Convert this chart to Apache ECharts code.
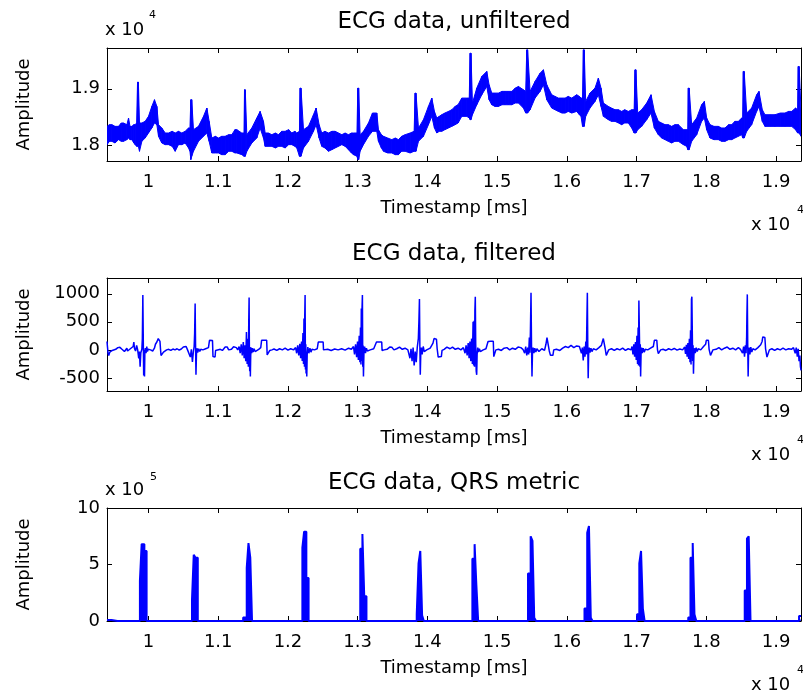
<!DOCTYPE html>
<html><head><meta charset="utf-8">
<script src="https://cdn.jsdelivr.net/npm/echarts@6/dist/echarts.min.js"></script>
<style>html,body{margin:0;padding:0;background:#fff}#c{width:803px;height:695px}</style>
</head><body><div id="c"></div>
<script>
// ---------- axis ticks / labels ----------
const xTicks = [10000, 11000, 12000, 13000, 14000, 15000, 16000, 17000, 18000, 19000];
const xTickLabels = ['1', '1.1', '1.2', '1.3', '1.4', '1.5', '1.6', '1.7', '1.8', '1.9'];
const rawTicks = [18000, 19000];
const rawTickLabels = ['1.8', '1.9'];
const filtTicks = [-500, 0, 500, 1000];
const filtTickLabels = ['-500', '0', '500', '1000'];
const qrsTicks = [0, 500000, 1000000];
const qrsTickLabels = ['0', '5', '10'];
const titles = ['ECG data, unfiltered', 'ECG data, filtered', 'ECG data, QRS metric'];

// ---------- unfiltered ECG: [timestamp ms, lower edge, upper edge] of the noisy trace ----------
const rawBand = [
[9405,18006,18331],[9440,18065,18361],[9475,18065,18361],[9520,18035,18331],[9570,18095,18331],
[9610,18065,18391],[9642,18065,18391],[9690,18095,18361],[9714,18124,18479],[9735,18095,18331],
[9761,18095,18331],[9790,18035,18361],[9809,18006,18361],[9830,17976,18391],[9843,17976,19118],
[9855,17976,19118],[9871,17888,18391],[9905,18065,18391],[9952,18124,18420],[10000,18213,18509],
[10048,18302,18686],[10086,18391,18805],[10120,18361,18686],[10144,18154,18361],[10191,18035,18302],
[10240,18006,18213],[10287,18006,18213],[10340,17976,18243],[10383,17888,18213],[10430,18006,18243],
[10478,18006,18213],[10526,18035,18243],[10574,17947,18302],[10595,17888,18302],[10607,17740,18805],
[10620,17800,18805],[10645,17888,18272],[10717,18065,18331],[10789,18154,18509],[10837,18213,18657],
[10870,18065,18420],[10908,17858,18124],[10960,17858,18154],[11004,17858,18124],[11050,17828,18154],
[11099,17828,18154],[11150,17888,18183],[11195,17888,18183],[11240,17858,18272],[11267,17858,18272],
[11338,17828,18213],[11370,17799,18213],[11377,17799,18982],[11388,17799,18982],[11410,17888,18183],
[11482,18035,18302],[11553,18124,18479],[11601,18302,18597],[11649,18124,18420],[11673,17976,18213],
[11720,17976,18213],[11769,17976,18183],[11820,17947,18213],[11864,17976,18183],[11910,17976,18243],
[11960,17947,18243],[12010,18006,18272],[12055,18006,18213],[12100,17976,18243],[12127,17947,18213],
[12165,17799,18243],[12175,17799,19012],[12187,17799,19012],[12223,17947,18272],[12294,18065,18331],
[12366,18243,18538],[12404,18361,18657],[12447,18124,18361],[12485,17976,18213],[12530,17947,18243],
[12581,17888,18213],[12630,17917,18243],[12677,17947,18243],
[12773,18006,18183],[12820,17976,18213],[12868,17917,18183],[12910,17858,18213],[12940,17828,18213],
[12990,17799,18213],[13002,17740,19012],[13014,17740,19012],[13035,17888,18183],[13083,18006,18243],
[13155,18154,18391],[13212,18243,18568],[13274,18243,18568],[13298,18065,18272],[13340,17947,18183],
[13370,17888,18154],[13430,17858,18124],[13489,17858,18095],[13540,17828,18124],[13585,17828,18095],
[13630,17888,18154],[13681,17888,18183],[13752,17858,18213],[13810,17888,18243],[13824,17888,18923],
[13836,17888,18923],[13872,18065,18302],[13943,18154,18450],[14015,18361,18686],[14063,18509,18834],
[14101,18302,18597],[14135,18213,18479],[14170,18243,18509],[14206,18243,18538],[14250,18272,18568],
[14302,18302,18597],[14350,18331,18627],[14397,18361,18686],[14440,18391,18716],[14493,18509,18834],
[14565,18509,18834],[14600,18480,18834],[14613,18450,19633],[14625,18450,19633],[14646,18538,18746],
[14708,18716,19012],[14780,18893,19219],[14851,19041,19308],[14885,18805,19071],[14923,18716,18923],
[14970,18686,18923],[15019,18686,18923],[15070,18716,18953],[15114,18716,18953],[15160,18716,18953],
[15210,18716,18953],[15260,18746,19012],[15306,18746,19041],[15377,18657,18982],[15410,18568,18953],
[15425,18568,19692],[15437,18568,19692],[15473,18627,18953],[15544,18834,19130],[15616,18953,19278],
[15664,19071,19337],[15712,18805,19071],[15783,18657,18893],[15830,18627,18864],[15879,18597,18834],
[15930,18568,18834],[15975,18568,18834],
[16020,18597,18864],[16070,18568,18834],[16141,18597,18893],[16180,18538,18864],[16203,18509,18834],
[16225,18331,18834],[16237,18331,19692],[16249,18331,19692],[16270,18509,18775],[16332,18657,18923],
[16404,18775,19012],[16452,18893,19189],[16490,18686,19012],[16524,18509,18746],[16595,18450,18686],
[16640,18420,18657],[16691,18420,18627],[16740,18391,18627],[16786,18361,18597],[16830,18391,18627],
[16882,18391,18597],[16930,18302,18627],[16965,18213,18627],[16978,18213,19337],[16990,18213,19337],
[17016,18272,18568],[17073,18331,18627],[17145,18450,18746],[17207,18568,18893],[17255,18302,18597],
[17312,18183,18420],[17360,18124,18391],[17408,18095,18361],[17455,18065,18361],[17503,18035,18331],
[17550,18065,18361],[17599,18065,18361],[17671,18006,18272],[17718,17976,18272],[17735,17917,18272],
[17742,17917,19012],[17754,17917,19012],[17790,18065,18361],[17862,18183,18479],[17933,18420,18716],
[17972,18479,18775],[18005,18272,18479],[18053,18124,18361],[18110,18095,18331],[18172,18095,18331],
[18220,18065,18302],[18268,18065,18302],[18320,18095,18361],[18364,18095,18361],[18410,18124,18420],
[18459,18154,18420],[18507,18183,18479],[18522,18124,18479],[18531,18124,19308],[18543,18124,19308],
[18579,18243,18568],[18650,18361,18657],[18722,18597,18893],[18755,18686,18953],[18803,18420,18627],
[18841,18331,18538],[18910,18331,18538],[18985,18331,18538],[19060,18331,18568],[19128,18331,18568],
[19180,18331,18597],[19224,18331,18597],[19280,18272,18657],[19310,18213,18627],[19319,18213,19396],
[19331,18213,19396],[19358,18154,18627]
];

// ---------- filtered ECG: [timestamp ms, amplitude] ----------
const filteredPoints = [
[9405,150],[9412,140],[9420,-60],[9430,-100],[9445,-40],[9460,-20],[9480,-10],[9500,0],[9530,10],[9560,40],
[9590,45],[9620,10],[9640,20],[9655,-30],[9670,0],[9690,30],[9700,-20],[9715,10],[9740,20],[9760,-10],
[9780,60],[9790,140],[9800,20],[9815,-20],[9830,80],[9845,0],[9860,-150],[9870,-30],[9880,-300],[9890,-50],
[9905,10],[9912,200],[9919,977],[9926,100],[9931,-456],[9937,0],[9943,-474],[9948,-40],[9955,30],[9965,-60],
[9975,60],[9985,-30],[9995,10],[10005,40],[10015,0],[10030,0],[10060,-20],[10085,30],[10100,100],[10120,140],
[10140,200],[10155,230],[10165,150],[10172,20],[10180,-100],[10200,-100],[10215,-40],[10230,-10],[10260,0],
[10290,10],[10320,-10],[10350,15],[10380,0],[10410,20],[10440,-5],[10470,15],[10500,50],[10520,40],[10540,60],
[10560,0],[10580,20],[10600,-128],[10615,10],[10630,-217],[10645,-20],[10655,60],[10662,300],[10669,828],
[10675,100],[10681,-444],[10688,-80],[10695,30],[10705,-50],[10720,20],[10735,-30],[10750,10],[10780,0],
[10820,20],[10860,40],[10875,170],[10900,171],[10918,165],[10925,-120],[10955,-128],[10962,-10],[10990,0],
[11030,10],[11060,-10],[11100,50],[11130,50],[11150,0],[11190,10],[11220,55],[11260,40],[11280,0],
[11300,60],[11315,-60],[11330,100],[11345,-100],[11360,140],[11372,-150],[11385,80],[11395,-200],[11405,320],
[11415,-250],[11425,200],[11432,-300],[11438,500],[11443,935],[11448,-200],[11452,-380],[11457,50],[11461,-474],
[11466,-100],[11472,40],[11480,-60],[11490,30],[11500,-40],[11515,20],[11530,-30],[11545,0],
[11580,10],[11610,40],[11622,170],[11660,171],[11695,171],[11702,-90],[11730,-98],[11740,-10],[11770,0],
[11800,15],[11840,-10],[11880,20],[11920,0],[11960,30],[12000,-5],[12040,20],[12080,0],
[12110,40],[12125,-60],[12140,80],[12155,-100],[12170,110],[12182,-150],[12195,150],[12205,-200],[12215,300],
[12223,-250],[12230,559],[12237,-300],[12241,600],[12246,977],[12251,-350],[12256,100],[12260,-420],[12265,-50],
[12270,-474],[12276,-80],[12285,50],[12300,-60],[12315,30],[12330,-40],[12345,10],
[12380,0],[12420,20],[12435,140],[12470,141],[12505,141],[12510,0],[12530,-10],
[12570,10],[12620,-10],[12670,15],[12720,0],[12770,20],[12820,-5],[12870,30],[12910,10],
[12940,60],[12955,-80],[12970,100],[12985,-130],[12998,150],[13010,-180],[13022,250],[13032,-220],[13040,400],
[13047,-260],[13052,738],[13058,-200],[13063,760],[13068,977],[13073,-300],[13078,80],[13083,-474],[13090,-40],
[13100,60],[13112,-60],[13125,30],[13140,-20],
[13180,0],[13230,20],[13270,140],[13310,141],[13345,141],[13350,-10],[13380,0],
[13420,10],[13460,50],[13490,45],[13520,0],[13560,20],[13600,50],[13640,10],[13680,30],
[13720,0],[13750,-150],[13765,20],[13780,-200],[13795,40],[13810,-277],[13825,-30],[13840,-220],[13855,50],
[13870,200],[13878,500],[13886,905],[13892,50],[13898,-444],[13905,-60],[13913,40],[13925,-80],[13940,60],[13955,-30],
[13990,0],[14040,30],[14080,120],[14095,201],[14130,190],[14140,20],[14155,-128],[14200,-120],[14210,-10],
[14240,10],[14280,50],
[14325,20],[14360,50],[14400,10],[14440,30],[14480,0],[14516,40],
[14540,-60],[14555,80],[14570,-100],[14585,120],[14598,-150],[14610,150],[14622,-200],[14634,200],[14645,-250],
[14655,499],[14663,-280],[14670,520],[14676,-300],[14681,700],[14687,947],[14693,100],[14700,-380],[14707,-444],
[14713,-80],[14722,40],[14732,-40],[14745,20],[14760,-30],
[14800,0],[14840,20],[14870,150],[14910,153],[14945,153],[14952,-120],[14975,-128],[14982,0],
[15020,10],[15060,-10],[15100,30],[15140,40],[15180,0],[15220,30],[15260,10],[15300,50],[15340,40],[15370,10],
[15395,-60],[15410,60],[15425,-98],[15440,40],[15452,-80],[15462,219],[15470,-50],[15477,300],[15486,1019],
[15493,100],[15500,-474],[15507,-60],[15515,40],[15528,-60],[15540,30],[15555,-40],[15570,20],
[15600,-30],[15640,20],[15680,-10],[15700,100],[15715,219],[15738,200],[15748,-20],[15765,-98],[15800,-98],[15812,0],
[15850,10],[15900,-10],[15940,30],[15980,60],[16020,40],[16060,80],[16100,40],[16140,70],[16180,60],
[16210,-60],[16222,40],[16235,-187],[16248,60],[16260,-120],[16272,150],[16280,-80],[16287,500],[16294,1019],
[16300,100],[16306,-504],[16312,-100],[16320,40],[16332,-50],[16345,30],[16360,-30],[16380,20],
[16420,0],[16460,40],[16495,80],[16510,150],[16523,201],[16540,180],[16550,20],[16565,-98],[16590,-90],[16600,0],
[16640,20],[16680,-10],[16720,20],[16760,0],[16800,30],[16840,-10],[16880,20],[16920,0],
[16935,60],[16948,-80],[16960,100],[16972,-120],[16984,140],[16995,-180],[17005,250],[17014,-250],[17022,400],
[17028,-280],[17033,880],[17039,905],[17044,860],[17048,-300],[17053,100],[17058,-474],[17064,-80],[17072,40],
[17082,-60],[17095,30],[17110,-40],[17125,10],
[17160,0],[17200,30],[17240,60],[17255,171],[17290,171],[17300,0],[17312,-68],[17335,-60],[17345,0],
[17380,10],[17420,-10],[17460,20],[17500,0],[17540,25],[17580,-5],[17620,15],[17660,0],
[17690,50],[17702,-70],[17714,90],[17725,-120],[17736,120],[17747,-160],[17757,200],[17766,-220],[17774,350],
[17781,-260],[17787,900],[17793,947],[17799,930],[17804,-200],[17810,80],[17816,-426],[17822,-100],[17830,30],
[17842,-60],[17855,40],[17870,-30],[17885,20],
[17920,0],[17960,60],[17990,100],[18000,171],[18030,171],[18040,10],[18060,-98],[18085,-98],[18095,0],
[18140,10],[18180,40],[18220,0],[18260,30],[18300,50],[18340,10],[18380,30],[18420,0],[18460,40],[18490,10],
[18520,-60],[18535,60],[18548,-120],[18560,80],[18570,-60],[18578,200],[18582,600],[18588,989],[18594,100],
[18600,-474],[18606,-60],[18614,40],[18625,-80],[18638,50],[18652,-40],[18668,20],
[18700,0],[18740,40],[18780,90],[18800,150],[18810,231],[18840,220],[18850,20],[18870,-128],[18895,-120],[18905,0],
[18940,20],[18980,-10],[19020,20],[19060,0],[19100,30],[19140,0],[19180,20],[19220,10],[19250,40],
[19275,-60],[19290,40],[19305,-120],[19318,20],[19330,-200],[19342,-100],[19350,-300],[19358,-366]
];

// ---------- QRS metric: [timestamp ms, amplitude] (step breakpoints) ----------
const qrsPoints = [
[9405,8000],[9420,8000],[9470,0],[9555,12000],[9565,0],
[9877,355000],[9902,680000],[9941,620000],[9973,0],
[10624,190000],[10649,586000],[10675,560000],[10707,0],
[11358,30000],[11409,470000],[11434,690000],[11460,560000],[11485,0],
[12207,650000],[12232,790000],[12264,380000],[12296,0],
[13037,640000],[13068,770000],[13094,220000],[13126,0],
[13847,60000],[13873,510000],[13898,620000],[13924,50000],[13949,0],
[14645,550000],[14677,680000],[14702,320000],[14728,0],
[15443,420000],[15481,750000],[15507,710000],[15532,30000],[15558,0],
[16253,110000],[16292,780000],[16317,840000],[16343,30000],[16368,0],
[17007,60000],[17039,510000],[17064,620000],[17090,110000],[17115,0],
[17290,15000],[17300,0],
[17741,30000],[17773,560000],[17805,690000],[17830,60000],[17856,0],
[18551,270000],[18583,730000],[18608,750000],[18634,0],
[19330,45000],[19358,45000]
];

// ---------- layout / style ----------
const FONT = "'DejaVu Sans', sans-serif";
const BLUE = '#0000ff';
const X_MIN = 9405, X_MAX = 19358;
const gridTops = [48, 278, 508];
const yRanges = [[17715, 19725], [-733, 1281], [0, 1000000]];
const yTickSets = [[rawTicks, rawTickLabels], [filtTicks, filtTickLabels], [qrsTicks, qrsTickLabels]];

const grids = gridTops.map(t => ({left: 107, top: t, width: 694, height: 113, containLabel: false, outerBoundsMode: 'none'}));

const xAxes = [], yAxes = [];
for (let g = 0; g < 3; g++) {
  ['bottom', 'top'].forEach(pos => {
    xAxes.push({
      type: 'value', gridIndex: g, position: pos, min: X_MIN, max: X_MAX,
      axisLine: {show: true, onZero: false, lineStyle: {color: '#000', width: 1}},
      axisTick: {show: true, inside: true, length: 5, customValues: xTicks, lineStyle: {color: '#000', width: 1}},
      axisLabel: {show: pos === 'bottom', customValues: xTicks, margin: 12, color: '#000', fontSize: 18, fontFamily: FONT,
        formatter: v => xTickLabels[xTicks.indexOf(v)]},
      splitLine: {show: false},
      name: pos === 'bottom' ? 'Timestamp [ms]' : '',
      nameLocation: 'middle', nameGap: 38,
      nameTextStyle: {color: '#000', fontSize: 18, fontFamily: FONT}
    });
  });
  const [tk, tl] = yTickSets[g];
  ['left', 'right'].forEach(pos => {
    yAxes.push({
      type: 'value', gridIndex: g, position: pos, min: yRanges[g][0], max: yRanges[g][1],
      axisLine: {show: true, onZero: false, lineStyle: {color: '#000', width: 1}},
      axisTick: {show: true, inside: true, length: 5, customValues: tk, lineStyle: {color: '#000', width: 1}},
      axisLabel: {show: pos === 'left', customValues: tk, margin: 7, color: '#000', fontSize: 18, fontFamily: FONT,
        formatter: v => tl[tk.indexOf(v)]},
      splitLine: {show: false},
      name: pos === 'left' ? 'Amplitude' : '',
      nameLocation: 'middle', nameGap: 74, nameRotate: 90,
      nameTextStyle: {color: '#000', fontSize: 18, fontFamily: FONT}
    });
  });
}

// band segments for the noisy unfiltered trace
const bandItems = [];
for (let i = 0; i < rawBand.length - 1; i++) {
  const a = rawBand[i], b = rawBand[i + 1];
  bandItems.push([a[0], a[1], a[2], b[0], b[1], b[2]]);
}

function txt(x, y, text, size, align) {
  return {type: 'text', x: x, y: y, silent: true,
    style: {text: text, fill: '#000', fontSize: size, fontFamily: FONT,
      align: align, textAlign: align, verticalAlign: 'middle', textVerticalAlign: 'middle'}};
}
const graphics = [
  txt(454, 22, titles[0], 23, 'center'),
  txt(454, 254, titles[1], 23, 'center'),
  txt(454, 483, titles[2], 23, 'center'),
  txt(105, 30, 'x 10', 18, 'left'), txt(149, 15, '4', 11, 'left'),
  txt(105, 490, 'x 10', 18, 'left'), txt(150, 477, '5', 11, 'left'),
  txt(751, 225, 'x 10', 18, 'left'), txt(797, 210, '4', 11, 'left'),
  txt(751, 455, 'x 10', 18, 'left'), txt(797, 440, '4', 11, 'left'),
  txt(751, 685, 'x 10', 18, 'left'), txt(797, 670, '4', 11, 'left')
];

const chart = echarts.init(document.getElementById('c'), null, {renderer: 'canvas'});
chart.setOption({
  animation: false,
  backgroundColor: '#fff',
  grid: grids,
  xAxis: xAxes,
  yAxis: yAxes,
  graphic: graphics,
  series: [
    {
      type: 'custom', name: 'unfiltered', xAxisIndex: 0, yAxisIndex: 0, clip: true, silent: true,
      encode: {x: [0, 3], y: [1, 2, 4, 5]},
      renderItem: (params, api) => {
        const p1 = api.coord([api.value(0), api.value(1)]);
        const p2 = api.coord([api.value(0), api.value(2)]);
        const p3 = api.coord([api.value(3), api.value(5)]);
        const p4 = api.coord([api.value(3), api.value(4)]);
        return {type: 'polygon', shape: {points: [p1, p2, p3, p4]},
          style: {fill: BLUE, stroke: BLUE, lineWidth: 1}};
      },
      data: bandItems
    },
    {
      type: 'line', name: 'filtered', xAxisIndex: 2, yAxisIndex: 2, data: filteredPoints,
      showSymbol: false, symbol: 'none', lineStyle: {color: BLUE, width: 1.5}, itemStyle: {color: BLUE}, silent: true
    },
    {
      type: 'line', name: 'QRS', xAxisIndex: 4, yAxisIndex: 4, data: qrsPoints, step: 'end',
      showSymbol: false, symbol: 'none', lineStyle: {color: BLUE, width: 2}, itemStyle: {color: BLUE},
      areaStyle: {color: BLUE, opacity: 1}, silent: true
    }
  ]
});
</script>
</body></html>
